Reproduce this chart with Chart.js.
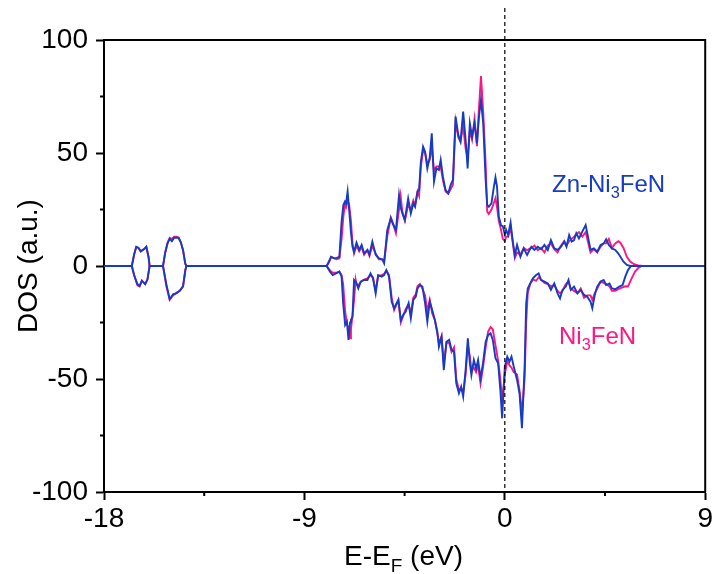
<!DOCTYPE html>
<html>
<head>
<meta charset="utf-8">
<script src="https://cdn.jsdelivr.net/npm/chart.js@4.4.0/dist/chart.umd.min.js"></script>
<style>
html, body { margin: 0; padding: 0; background: #fff; }
</style>
</head>
<body>
<canvas id="dos" width="715" height="574"></canvas>
<script>
// energies (eV) and DOS values for spin up (positive) and spin down (negative)
const upE = [-18, -16.75, -16.65, -16.55, -16.45, -16.35, -16.2, -16.1, -16.0, -15.95,
    -15.35, -15.25, -15.15, -15.05, -14.95, -14.85, -14.75, -14.65, -14.55, -14.45, -14.35, -14.3,
    -8.0, -7.9, -7.8, -7.66, -7.55, -7.43, -7.33, -7.25, -7.18, -7.13, -7.06, -6.99, -6.91, -6.84, -6.77,
    -6.66, -6.54, -6.43, -6.32, -6.17, -6.08, -5.95, -5.8, -5.66, -5.5, -5.42, -5.28, -5.12, -5.04,
    -4.89, -4.75, -4.68, -4.6, -4.49, -4.34, -4.22, -4.11, -4.03, -3.92, -3.85, -3.77, -3.67, -3.58,
    -3.48, -3.37, -3.28, -3.18, -3.07, -2.96, -2.88, -2.78, -2.66, -2.54, -2.43, -2.33, -2.21, -2.09,
    -1.99, -1.87, -1.76, -1.67, -1.57, -1.47, -1.36, -1.25, -1.16, -1.07, -0.97, -0.86, -0.79, -0.72,
    -0.6, -0.49, -0.42, -0.35, -0.27, -0.17, -0.09, 0.0, 0.06, 0.15, 0.26, 0.36, 0.45, 0.55, 0.7, 0.85,
    1.0, 1.19, 1.33, 1.48, 1.63, 1.78, 1.93, 2.07, 2.22, 2.37, 2.52, 2.67, 2.77, 2.89, 3.0, 3.11, 3.21,
    3.33, 3.48, 3.63, 3.75, 3.85, 4.0, 4.15, 4.3, 4.44, 4.55, 4.67, 4.81, 4.96, 5.1, 5.19, 5.33, 5.48,
    5.63, 5.8, 6.0, 6.2, 9];
const upZn = [0, 0, 5, 8.5, 8, 6.5, 7.5, 8.5, 4, 0,
    0, 6, 10, 12, 11, 12.5, 12.5, 12.5, 10.5, 7, 1, 0,
    0, 2, 4.1, 3.4, 3.6, 4, 19.6, 27, 28.5, 27.7, 32.9, 24.8, 15, 8.5, 6.3,
    10.3, 7.1, 9.3, 5.6, 7.1, 5, 10.8, 5, 3.5, 2.8, 1.2, 15.9, 21.1, 18.9,
    15.9, 31.4, 26, 23.3, 20.4, 29.9, 23.3, 27.7, 26.2, 32.9, 33.6, 46.2, 52.8, 50.6,
    43.2, 48.3, 58.7, 37.3, 43.2, 42.5, 46.9, 39.5, 33.6, 32.2, 35.9, 38.1, 66.1, 58,
    55.1, 68.3, 55.8, 43.2, 63.1, 57.2, 63.1, 54.3, 66.1, 73.5, 63.1, 38.1, 27, 26.2,
    27.7, 35.1, 39.2, 35.1, 21.8, 18, 17.6, 14, 16, 13.7, 19.2, 10.8, 4.9, 9.3, 4.1, 7.8,
    4.9, 8.5, 7.1, 8.5, 7.4, 9.3, 7.1, 11.5, 7.8, 7.1, 8.5, 10.8, 8.5, 13.7, 10.8, 11.5, 14.5,
    12.2, 15.2, 18.1, 12.2, 7.1, 7.8, 6.3, 9.3, 10, 11.8, 9.3, 7.8, 7.1, 5.5, 4.1, 1.9, 0.5,
    0, 0, 0, 0, 0];
const upNi = [0, 0, 5, 8.5, 8, 6.5, 7.5, 8.5, 4, 0,
    0, 6, 10, 12.5, 12, 13, 13, 12.5, 10.5, 7, 1, 0,
    0, 1.5, 4, 3.4, 3.0, 3.4, 12, 22, 27, 26, 29, 27, 20, 10, 5.6,
    9, 6.5, 8.5, 5, 7, 4.5, 9, 5.5, 3, 3, 2, 13, 21.5, 19.5,
    14.5, 25, 31, 24, 20, 27, 25, 29, 27, 33, 31, 44, 51, 50,
    45, 47, 53, 42, 44, 44, 44, 38, 33, 32, 34, 36, 64, 57,
    55, 62, 52, 48, 60, 56, 65, 53, 70, 84, 68, 45, 24, 23,
    25, 28, 30, 26, 20, 16, 12, 11, 13, 13, 17, 10, 3.5, 6, 5, 8,
    7, 8, 9, 7, 8, 6, 9, 10, 7.5, 6, 9, 11, 9, 11, 12, 13, 14,
    15, 13, 15, 10, 6, 7.5, 6, 8.5, 10, 10, 12, 8, 10, 11, 10.3, 8, 4.1,
    2, 0.8, 0.3, 0, 0];

const dnE = [-18, -16.75, -16.65, -16.5, -16.4, -16.3, -16.15, -16.05, -15.95,
    -15.35, -15.2, -15.05, -14.9, -14.75, -14.6, -14.45, -14.35, -14.3,
    -8.0, -7.85, -7.73, -7.58, -7.43, -7.33, -7.26, -7.17, -7.09, -7.02, -6.95, -6.91, -6.84, -6.77,
    -6.7, -6.66, -6.58, -6.47, -6.32, -6.17, -6.03, -5.92, -5.8, -5.69, -5.53, -5.42, -5.32, -5.2,
    -5.08, -4.97, -4.86, -4.78, -4.67, -4.56, -4.45, -4.32, -4.22, -4.11, -4.0, -3.92, -3.81, -3.7,
    -3.58, -3.48, -3.37, -3.26, -3.14, -3.03, -2.96, -2.84, -2.74, -2.62, -2.5, -2.39, -2.28, -2.18,
    -2.06, -1.96, -1.87, -1.76, -1.66, -1.57, -1.5, -1.39, -1.29, -1.2, -1.09, -0.98, -0.86, -0.75,
    -0.64, -0.54, -0.42, -0.3, -0.2, -0.12, 0.0, 0.11, 0.21, 0.3, 0.4, 0.55, 0.66, 0.77, 0.89, 0.96,
    1.03, 1.14, 1.26, 1.41, 1.52, 1.63, 1.78, 1.93, 2.07, 2.22, 2.37, 2.48, 2.59, 2.74, 2.86, 2.96,
    3.11, 3.26, 3.41, 3.56, 3.7, 3.85, 3.93, 4.04, 4.15, 4.3, 4.44, 4.55, 4.7, 4.81, 4.96, 5.14,
    5.29, 5.41, 5.53, 5.67, 5.85, 6.0, 6.15, 9];
const dnZn = [0, 0, -4, -8, -8.8, -6.5, -8, -6, 0,
    0, -8, -14.7, -12.5, -12, -11, -9, -2, 0,
    0, -2.5, -4, -3.3, -2.5, -4.7, -16.5, -26.1, -24.6, -32.7, -25, -23.9, -22.4, -6.2,
    -7, -7.7, -9.9, -6.9, -6.2, -6.2, -3.3, -5.5, -12.1, -4, -4.7, -4, -1.8, -4.7,
    -15.8, -18.7, -16.5, -15, -23.9, -21.6, -20.2, -16.5, -23.1, -15, -13.6, -9.9, -8.4, -9.1,
    -16.5, -24.6, -15.8, -19.5, -23.9, -29.1, -35.7, -31.3, -46, -33.5, -32.7, -37.2, -37.9, -51.9,
    -56.3, -53.4, -57.8, -46, -32, -43, -48.2, -41.6, -45.3, -41.6, -49.7, -43, -33.5, -30.6,
    -29.8, -32.7, -40.8, -43, -54.9, -67.4, -44.5, -40.1, -42.3, -40.1, -44.5, -50.4, -56.3, -71.8, -44.5, -16.5,
    -10, -7.7, -5.5, -4, -3.3, -6.2, -6.9, -7.7, -10.6, -7.7, -12.1, -14.3, -10.6, -9.1, -6.2, -10.6,
    -9.1, -12.1, -10.6, -12.8, -13.6, -15.8, -18.7, -12.8, -9.1, -6.9, -6.2, -8.4, -7.7, -9.9, -10.3, -9.1,
    -8.4, -4.7, -1.8, 0, 0, 0, 0, 0];
const dnNi = [0, 0, -4, -8.5, -9, -6.5, -8, -6, 0,
    0, -9, -15, -13, -12, -11, -9, -2, 0,
    0, -2, -3, -3, -2.5, -4, -8, -20, -26, -27, -32, -28, -22, -15,
    -6, -8, -8.5, -7, -6, -5.5, -4, -5, -11, -4.5, -4, -3.5, -2, -4,
    -14, -19.5, -17, -15, -25, -22, -19, -17, -21, -14, -12.5, -9, -8, -10,
    -13, -20, -15, -21, -24, -30, -34, -31, -43, -34, -34, -38, -36, -50,
    -55, -54, -56, -48, -35, -40, -46, -45, -47, -44, -52, -45, -36, -29,
    -27, -28, -35, -42, -50, -60, -48, -42, -44, -45, -47, -48, -55, -65, -50, -25,
    -12, -8, -6, -6.5, -5, -6, -7.5, -8, -9, -8.5, -11, -12, -11, -8, -7, -10,
    -11, -12, -10, -14, -13, -13, -15, -12, -10, -7, -7.5, -8, -9, -11, -11, -10,
    -9.5, -9, -9.1, -6, -2.5, -0.8, 0, 0];

const xTicks = [-18, -9, 0, 9];
const yTicks = [-100, -50, 0, 50, 100];
const xMinor = [-13.5, -4.5, 4.5];
const yMinor = [-75, -25, 25, 75];

const BLUE = '#153cc2';
const PINK = '#ff1585';
const FONT = "'Liberation Sans', Arial, sans-serif";

function pts(xs, ys) {
    return xs.map((x, i) => ({ x: x, y: ys[i] }));
}

function line(data, color) {
    return {
        data: data,
        borderColor: color,
        backgroundColor: color,
        borderWidth: 1.9,
        pointRadius: 0,
        tension: 0,
        fill: false
    };
}

const decor = {
    id: 'decor',
    afterDraw(chart) {
        const ctx = chart.ctx;
        const a = chart.chartArea;
        const xs = chart.scales.x, ys = chart.scales.y;
        ctx.save();
        // top and right frame
        ctx.strokeStyle = '#000';
        ctx.lineWidth = 2;
        ctx.beginPath();
        ctx.moveTo(a.left, a.top);
        ctx.lineTo(a.right, a.top);
        ctx.lineTo(a.right, a.bottom);
        ctx.stroke();
        // minor ticks
        ctx.beginPath();
        xMinor.forEach(v => {
            const p = xs.getPixelForValue(v);
            ctx.moveTo(p, a.bottom);
            ctx.lineTo(p, a.bottom + 4);
        });
        yMinor.forEach(v => {
            const p = ys.getPixelForValue(v);
            ctx.moveTo(a.left, p);
            ctx.lineTo(a.left - 4, p);
        });
        ctx.stroke();
        // Fermi level
        const x0 = xs.getPixelForValue(0);
        ctx.lineWidth = 1.2;
        ctx.setLineDash([4, 3]);
        ctx.beginPath();
        ctx.moveTo(x0, 8);
        ctx.lineTo(x0, a.bottom);
        ctx.stroke();
        ctx.setLineDash([]);

        // text with subscript
        function sub(parts, x, y, size, color) {
            ctx.fillStyle = color;
            ctx.textAlign = 'left';
            ctx.textBaseline = 'alphabetic';
            let cx = x;
            parts.forEach(p => {
                const s = p.sub ? size * 0.68 : size;
                ctx.font = s + 'px ' + FONT;
                ctx.fillText(p.t, cx, p.sub ? y + size * 0.25 : y);
                cx += ctx.measureText(p.t).width;
            });
        }
        sub([{ t: 'Zn-Ni' }, { t: '3', sub: true }, { t: 'FeN' }], 552, 192, 24, BLUE);
        sub([{ t: 'Ni' }, { t: '3', sub: true }, { t: 'FeN' }], 559, 344, 24, PINK);
        sub([{ t: 'E-E' }, { t: 'F', sub: true }, { t: ' (eV)' }], 344, 565, 28, '#000');

        ctx.translate(37, 266);
        ctx.rotate(-Math.PI / 2);
        ctx.font = '28px ' + FONT;
        ctx.fillStyle = '#000';
        ctx.textAlign = 'center';
        ctx.fillText('DOS (a.u.)', 0, 0);
        ctx.restore();
    }
};

window.addEventListener('load', function () {
    new Chart(document.getElementById('dos'), {
        type: 'line',
        data: {
            // first dataset is drawn on top
            datasets: [
                line(pts(upE, upZn), BLUE),
                line(pts(dnE, dnZn), BLUE),
                line(pts(upE, upNi), PINK),
                line(pts(dnE, dnNi), PINK)
            ]
        },
        options: {
            responsive: false,
            animation: false,
            layout: { padding: { top: 40, right: 8, left: 0, bottom: 0 } },
            plugins: {
                legend: { display: false },
                tooltip: { enabled: false }
            },
            scales: {
                x: {
                    type: 'linear',
                    min: -18,
                    max: 9,
                    afterFit: s => { s.height = 82; },
                    afterBuildTicks: s => { s.ticks = xTicks.map(v => ({ value: v })); },
                    border: { color: '#000', width: 2 },
                    grid: { drawOnChartArea: false, tickLength: 8, tickWidth: 2, tickColor: '#000' },
                    ticks: { color: '#000', padding: 2, maxRotation: 0, font: { family: FONT, size: 28 } }
                },
                y: {
                    min: -100,
                    max: 100,
                    afterFit: s => { s.width = 104; },
                    afterBuildTicks: s => { s.ticks = yTicks.map(v => ({ value: v })); },
                    border: { color: '#000', width: 2 },
                    grid: { drawOnChartArea: false, tickLength: 8, tickWidth: 2, tickColor: '#000' },
                    ticks: { color: '#000', padding: 8, font: { family: FONT, size: 28 } }
                }
            }
        },
        plugins: [decor]
    });
});
</script>
</body>
</html>
